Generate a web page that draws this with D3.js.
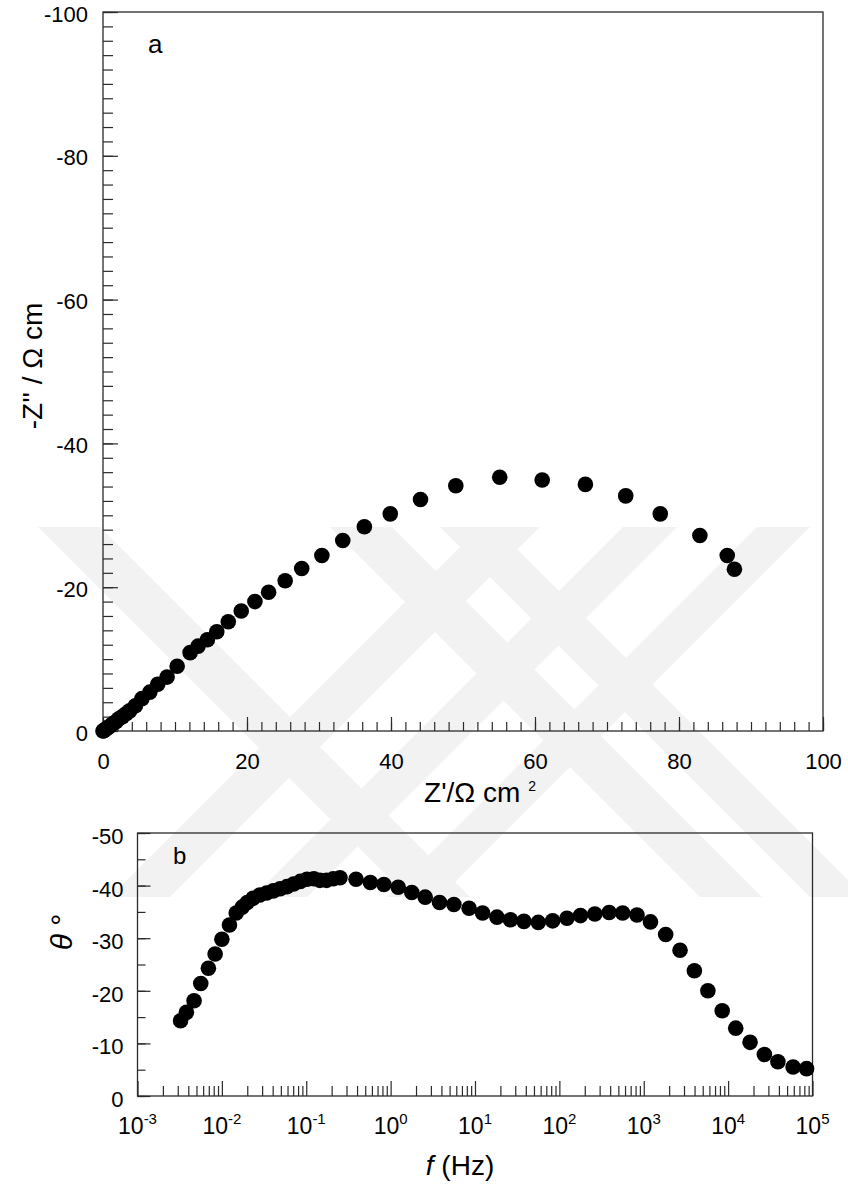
<!DOCTYPE html>
<html><head><meta charset="utf-8">
<script src="https://cdn.jsdelivr.net/npm/d3@7"></script>
<style>
body{margin:0;background:#fff}
text{font-family:"Liberation Sans",Arial,sans-serif;fill:#000}
</style>
</head><body>
<svg id="c" width="848" height="1184"></svg>
<script>
// ---- Panel a: Nyquist data (Z' and -Z'' in ohm cm^2) ----
const nyqX = [0.0,0.1,0.25,0.45,0.7,1.0,1.35,1.8,2.2,2.7,3.2,3.7,4.5,5.4,6.5,7.6,8.9,10.3,12.1,13.2,14.5,15.8,17.4,19.2,21.1,23.0,25.3,27.6,30.4,33.3,36.3,39.9,44.1,49.0,55.1,61.0,67.0,72.6,77.4,82.9,86.7,87.7];
const nyqY = [0.0,-0.05,-0.15,-0.3,-0.5,-0.7,-1.0,-1.3,-1.7,-2.0,-2.4,-2.8,-3.5,-4.5,-5.4,-6.5,-7.5,-9.0,-10.9,-11.8,-12.7,-13.8,-15.2,-16.7,-18.0,-19.3,-20.9,-22.6,-24.4,-26.5,-28.4,-30.2,-32.2,-34.1,-35.3,-34.9,-34.3,-32.7,-30.2,-27.2,-24.4,-22.5];
const xTicksA = [0,20,40,60,80,100];
const yTicksA = [0,-20,-40,-60,-80,-100];

// ---- Panel b: Bode phase data ----
const freq = [0.00324,0.0038,0.00468,0.00562,0.00692,0.00832,0.0100,0.0123,0.0148,0.0174,0.0200,0.0234,0.0282,0.0339,0.0407,0.0490,0.0589,0.0708,0.0851,0.102,0.123,0.145,0.174,0.209,0.251,0.389,0.575,0.832,1.23,1.78,2.57,3.80,5.62,8.51,12.3,18.2,26.3,38.0,56.2,83.2,123,178,263,389,562,832,1202,1820,2692,3981,5754,8511,12303,18197,26915,38905,58884,85114];
const phase = [-14.3,-15.9,-18.1,-21.4,-24.3,-27.0,-29.8,-32.5,-34.8,-35.9,-36.8,-37.6,-38.2,-38.6,-39.0,-39.4,-39.8,-40.3,-40.8,-41.2,-41.3,-41.0,-41.0,-41.3,-41.5,-41.2,-40.6,-40.2,-39.7,-38.7,-37.8,-36.8,-36.4,-35.7,-34.8,-34.0,-33.5,-33.2,-33.0,-33.3,-33.8,-34.3,-34.6,-34.9,-34.8,-34.4,-33.1,-30.7,-27.7,-23.8,-20.0,-16.2,-12.9,-10.2,-7.9,-6.5,-5.5,-5.2];
const xTicksB = [1e-3,1e-2,1e-1,1e0,1e1,1e2,1e3,1e4,1e5];
const xTickExp = ["-3","-2","-1","0","1","2","3","4","5"];
const yTicksB = [0,-10,-20,-30,-40,-50];

const svg = d3.select("#c");
const axisCol = "#2a2a2a";
const fmt = d => String(d);   // plain hyphen-minus as in the original

// ---- background watermark (decorative) ----
const wmTop = 527, wmBot = 897, wmH = wmBot - wmTop;
const backBands = [[38,100],[330,392],[440,495]];   // "\" bands, top x-range
const fwdBands  = [[480,540],[623,677],[757,810]];  // "/" bands, top x-range
const wm = svg.append("g").attr("fill","#f2f2f2");
backBands.forEach(([a,b]) => wm.append("polygon").attr("points",
  `${a},${wmTop} ${b},${wmTop} ${b+wmH},${wmBot} ${a+wmH},${wmBot}`));
fwdBands.forEach(([a,b]) => wm.append("polygon").attr("points",
  `${a},${wmTop} ${b},${wmTop} ${b-wmH},${wmBot} ${a-wmH},${wmBot}`));

// ================= Panel a =================
const xA = d3.scaleLinear().domain([0,100]).range([103,823]);
const yA = d3.scaleLinear().domain([0,-100]).range([731,12]);
const gA = svg.append("g");

function minorRange(a,b,s){const r=[];for(let v=a;v<=b+1e-9;v+=s)r.push(+v.toFixed(6));return r;}

gA.append("g").attr("transform",`translate(0,${yA(0)})`)
  .call(d3.axisBottom(xA).tickValues(minorRange(0,100,2)).tickSize(-9).tickFormat(""))
  .call(g=>{g.select(".domain").remove();g.selectAll("line").attr("stroke",axisCol).attr("stroke-width",1.2);});
gA.append("g").attr("transform",`translate(${xA(0)},0)`)
  .call(d3.axisLeft(yA).tickValues(minorRange(-100,0,2)).tickSize(-10).tickFormat(""))
  .call(g=>{g.select(".domain").remove();g.selectAll("line").attr("stroke",axisCol).attr("stroke-width",1.2);});
gA.append("g").attr("transform",`translate(0,${yA(0)})`)
  .call(d3.axisBottom(xA).tickValues(xTicksA).tickSize(-14).tickFormat(fmt))
  .call(g=>{g.select(".domain").remove();g.selectAll("line").attr("stroke",axisCol).attr("stroke-width",1.2);
    g.selectAll("text").attr("y",38).attr("dy",0).style("font-size","22px").attr("fill","#000");});
gA.append("g").attr("transform",`translate(${xA(0)},0)`)
  .call(d3.axisLeft(yA).tickValues(yTicksA).tickSize(-15).tickFormat(fmt))
  .call(g=>{g.select(".domain").remove();g.selectAll("line").attr("stroke",axisCol).attr("stroke-width",1.2);
    g.selectAll("text").attr("x",-15).attr("dy",9).style("font-size","22px").attr("fill","#000");});
gA.append("rect").attr("x",xA(0)).attr("y",yA(-100)).attr("width",xA(100)-xA(0)).attr("height",yA(0)-yA(-100))
  .attr("fill","none").attr("stroke",axisCol).attr("stroke-width",1.3);

gA.append("g").selectAll("circle").data(nyqX.map((x,i)=>[x,nyqY[i]])).join("circle")
  .attr("cx",d=>xA(d[0])).attr("cy",d=>yA(d[1])).attr("r",7.8).attr("fill","#000");

svg.append("text").attr("x",148).attr("y",53).style("font-size","26px").text("a");
svg.append("text").attr("x",480).attr("y",802).attr("text-anchor","middle").style("font-size","28px")
  .call(t=>{t.append("tspan").text("Z'/Ω cm ");t.append("tspan").attr("dy",-11).style("font-size","14px").text("2");});
svg.append("text").attr("transform","translate(42,366) rotate(-90)").attr("text-anchor","middle")
  .style("font-size","28px").text("-Z'' / Ω cm");

// ================= Panel b =================
const xB = d3.scaleLog().domain([1e-3,1e5]).range([137.5,812.5]);
const yB = d3.scaleLinear().domain([0,-50]).range([1096,833]);
const gB = svg.append("g");
const minorB = [];
for(let e=-3;e<5;e++) for(let m=2;m<=9;m++) minorB.push(m*Math.pow(10,e));

gB.append("g").attr("transform",`translate(0,${yB(0)})`)
  .call(d3.axisBottom(xB).tickValues(minorB).tickSize(-10).tickFormat(""))
  .call(g=>{g.select(".domain").remove();g.selectAll("line").attr("stroke",axisCol).attr("stroke-width",1.2);});
gB.append("g").attr("transform",`translate(0,${yB(0)})`)
  .call(d3.axisBottom(xB).tickValues(xTicksB).tickSize(-15).tickFormat(""))
  .call(g=>{g.select(".domain").remove();g.selectAll("line").attr("stroke",axisCol).attr("stroke-width",1.2);});
gB.append("g").attr("transform",`translate(${xB(1e-3)},0)`)
  .call(d3.axisLeft(yB).tickValues(minorRange(-50,0,5)).tickSize(-8).tickFormat(""))
  .call(g=>{g.select(".domain").remove();g.selectAll("line").attr("stroke",axisCol).attr("stroke-width",1.2);});
gB.append("g").attr("transform",`translate(${xB(1e-3)},0)`)
  .call(d3.axisLeft(yB).tickValues(yTicksB).tickSize(-13).tickFormat(fmt))
  .call(g=>{g.select(".domain").remove();g.selectAll("line").attr("stroke",axisCol).attr("stroke-width",1.2);
    g.selectAll("text").attr("x",-14).attr("dy",10.5).style("font-size","22px").attr("fill","#000");});
gB.append("g").selectAll("text").data(xTicksB).join("text")
  .attr("x",d=>xB(d)).attr("y",1134).attr("text-anchor","middle").style("font-size","23px")
  .each(function(d,i){const t=d3.select(this);t.append("tspan").text("10");
    t.append("tspan").attr("dy",-10).style("font-size","15px").text(xTickExp[i]);});
gB.append("rect").attr("x",xB(1e-3)).attr("y",yB(-50)).attr("width",xB(1e5)-xB(1e-3)).attr("height",yB(0)-yB(-50))
  .attr("fill","none").attr("stroke",axisCol).attr("stroke-width",1.3);

gB.append("g").selectAll("circle").data(freq.map((f,i)=>[f,phase[i]])).join("circle")
  .attr("cx",d=>xB(d[0])).attr("cy",d=>yB(d[1])).attr("r",7.8).attr("fill","#000");

svg.append("text").attr("x",173).attr("y",864).style("font-size","24px").text("b");
svg.append("text").attr("x",460).attr("y",1175).attr("text-anchor","middle").style("font-size","28px")
  .call(t=>{t.append("tspan").style("font-style","italic").text("f");t.append("tspan").text(" (Hz)");});
svg.append("text").attr("transform","translate(72,932) rotate(-90)").attr("text-anchor","middle")
  .style("font-size","30px")
  .call(t=>{t.append("tspan").style("font-style","italic").text("θ");t.append("tspan").text(" °");});
</script>
</body></html>
